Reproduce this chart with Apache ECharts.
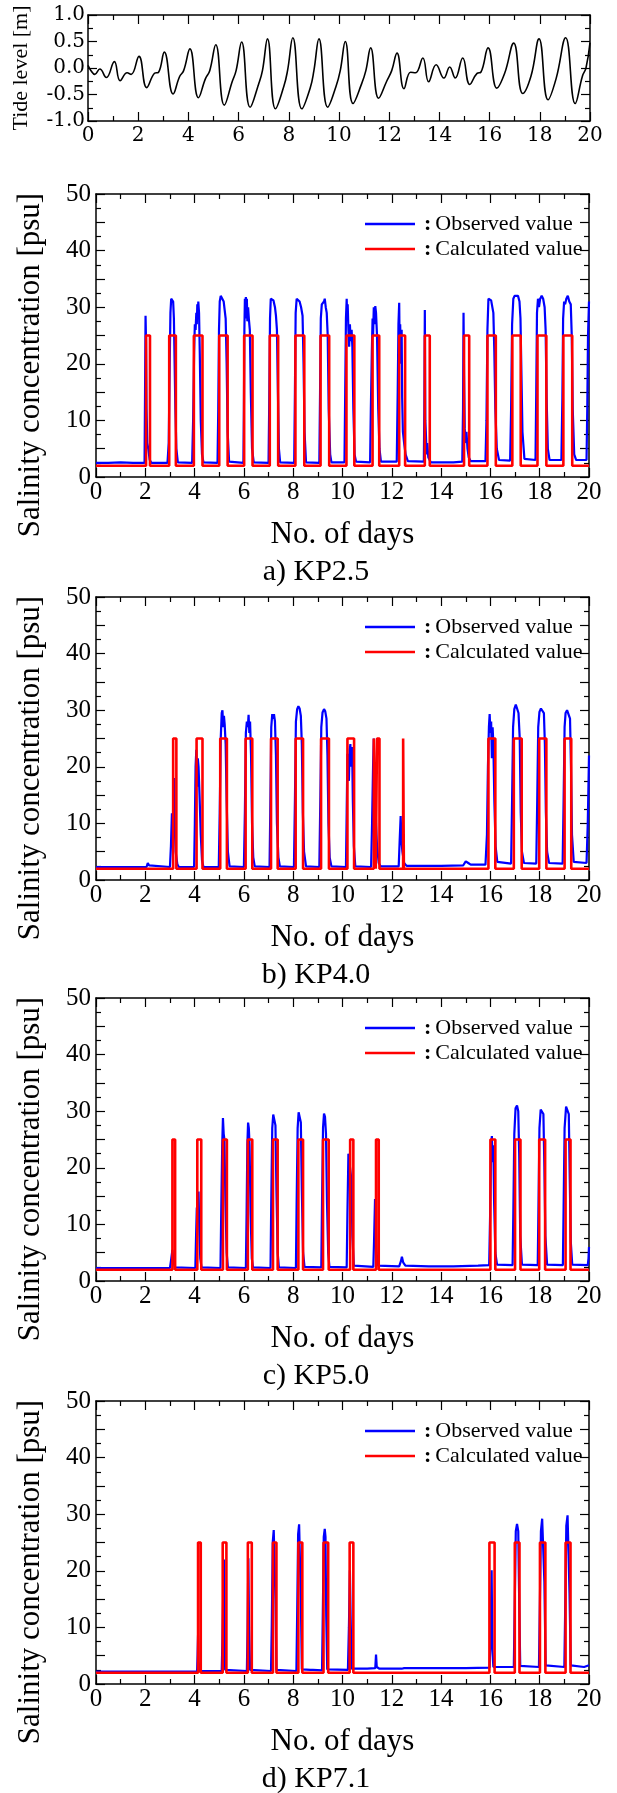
<!DOCTYPE html>
<html><head><meta charset="utf-8">
<script src="https://cdn.jsdelivr.net/npm/echarts@6/dist/echarts.min.js"></script>
<style>html,body{margin:0;padding:0;background:#fff}#c{width:617px;height:1793px}</style>
</head><body><div id="c"></div><script>
// ---------- Tide level (top panel) ----------
const tideDay = [0.00,0.12,0.27,0.47,0.73,1.05,1.28,1.56,1.72,2.03,2.34,2.65,2.81,3.04,3.39,3.65,3.81,4.06,4.40,4.68,4.85,5.09,5.43,5.75,5.90,6.12,6.46,6.80,6.95,7.15,7.47,7.80,7.95,8.16,8.52,8.85,9.00,9.20,9.55,9.88,10.05,10.25,10.56,10.90,11.07,11.26,11.58,11.90,12.10,12.31,12.59,12.85,13.05,13.34,13.57,13.87,14.18,14.41,14.63,14.93,15.21,15.50,15.65,15.94,16.29,16.60,16.96,17.32,17.65,17.97,18.33,18.65,19.03,19.41,19.70,19.84,20.00];
const tideLevel = [0.05,-0.05,-0.12,-0.02,-0.18,0.12,-0.24,-0.09,-0.12,0.22,-0.37,-0.10,-0.08,0.30,-0.49,-0.16,-0.05,0.36,-0.56,-0.20,-0.05,0.44,-0.70,-0.25,-0.05,0.49,-0.74,-0.30,-0.05,0.55,-0.77,-0.35,-0.05,0.57,-0.77,-0.38,-0.05,0.55,-0.74,-0.35,-0.05,0.50,-0.67,-0.30,-0.05,0.38,-0.57,-0.25,-0.05,0.28,-0.39,-0.08,-0.09,0.19,-0.26,0.06,-0.19,0.02,-0.19,0.19,-0.31,-0.10,-0.08,0.38,-0.38,-0.10,0.47,-0.48,-0.15,0.55,-0.60,-0.20,0.57,-0.67,-0.15,0.00,0.48];

// ---------- Calculated value: pulse levels and edges (days) ----------
const CALC_LOW = 2, CALC_HIGH = 25;
const calcAOn  = [2.03,2.97,3.97,5.00,6.01,7.05,8.09,9.11,10.16,11.22,12.30,13.34,14.93,15.88,16.89,17.91,18.96];
const calcAOff = [2.19,3.24,4.32,5.34,6.35,7.39,8.45,9.46,10.48,11.49,12.54,13.54,15.14,16.22,17.23,18.27,19.32];
const calcBOn  = [3.13,4.08,5.04,6.07,7.10,8.10,9.13,10.20,11.27,11.40,12.46,15.92,16.95,17.98,19.01];
const calcBOff = [3.26,4.32,5.31,6.34,7.37,8.40,9.45,10.47,11.35,11.50,12.49,16.20,17.27,18.27,19.28];
const calcCOn  = [3.10,4.11,5.15,6.16,7.18,8.21,9.21,10.31,11.36,16.00,17.00,17.98,19.05];
const calcCOff = [3.21,4.27,5.31,6.34,7.37,8.40,9.44,10.44,11.47,16.20,17.22,18.22,19.25];
const calcDOn  = [4.14,5.14,6.16,7.18,8.21,9.23,10.29,15.96,16.99,18.01,19.05];
const calcDOff = [4.25,5.29,6.32,7.32,8.37,9.42,10.44,16.17,17.18,18.23,19.25];

// ---------- Observed value [day, psu] ----------
const obsA = [[0,2.5],[0.5,2.5],[1.0,2.6],[1.5,2.5],[1.97,2.5],
[1.99,15],[2.01,28.5],[2.03,24],[2.05,12],[2.08,6],[2.12,5],[2.18,3],[2.25,2.5],
[2.9,2.5],[2.95,6],[2.99,20],[3.02,29],[3.05,31.5],[3.09,31.8],[3.13,31],[3.16,28],[3.19,20],[3.22,12],[3.26,5],[3.32,2.6],
[3.9,2.5],[3.94,10],[3.98,22],[4.01,27],[4.04,26],[4.07,29],[4.09,27],[4.11,30.5],[4.13,28],[4.15,31],[4.18,29],[4.21,22],[4.25,10],[4.3,4],[4.36,2.6],
[4.93,2.5],[4.96,12],[4.99,26],[5.02,31],[5.06,32],[5.1,31.8],[5.14,32.2],[5.18,31],[5.22,29.5],[5.26,28],[5.3,20],[5.34,8],[5.4,2.7],
[5.98,2.5],[6.0,12],[6.02,26],[6.04,31.5],[6.06,29],[6.08,31.8],[6.1,28],[6.12,31.5],[6.14,27.5],[6.17,30],[6.2,28],[6.24,26],[6.28,15],[6.33,5],[6.4,2.6],
[7.0,2.5],[7.03,14],[7.06,28],[7.09,31.5],[7.14,31.8],[7.2,31.2],[7.26,30],[7.3,28.5],[7.34,26],[7.38,15],[7.42,5],[7.47,2.6],
[8.04,2.5],[8.07,15],[8.1,29],[8.14,31.5],[8.2,31.8],[8.26,31],[8.32,30],[8.38,28.5],[8.42,20],[8.46,8],[8.52,2.6],
[9.06,2.5],[9.09,15],[9.12,28],[9.16,30.5],[9.2,30.2],[9.25,31],[9.28,31.5],[9.32,30],[9.36,29],[9.4,25],[9.44,12],[9.5,4],[9.55,2.6],
[10.08,2.6],[10.11,15],[10.14,28],[10.17,31.5],[10.19,28],[10.21,30.5],[10.24,26],[10.27,23],[10.3,27],[10.33,24],[10.37,26],[10.4,23],[10.44,12],[10.49,4],[10.55,2.7],
[11.12,2.6],[11.15,12],[11.19,22],[11.22,28],[11.24,25],[11.27,30],[11.3,27],[11.33,30.2],[11.36,29],[11.4,25],[11.45,12],[11.5,5],[11.56,2.7],
[12.2,2.7],[12.24,15],[12.27,27],[12.3,30.8],[12.32,22],[12.34,27],[12.37,20],[12.4,26],[12.42,14],[12.45,8],[12.5,6],[12.56,4],[12.65,2.8],
[13.3,2.7],[13.32,12],[13.34,29.5],[13.36,10],[13.38,8],[13.41,4],[13.44,6],[13.48,3.5],[13.58,2.6],
[14.0,2.6],[14.5,2.6],[14.86,2.7],[14.89,12],[14.91,29],[14.93,18],[14.96,8.5],[14.99,6],[15.03,8],[15.07,5],[15.12,3.5],[15.2,2.8],
[15.8,2.8],[15.84,10],[15.88,26],[15.92,31.5],[15.98,31.8],[16.03,31.2],[16.08,31.5],[16.12,29],[16.16,22],[16.2,12],[16.26,5],[16.35,3],
[16.8,2.9],[16.84,12],[16.88,27],[16.93,31.5],[16.98,32],[17.05,32.3],[17.12,32],[17.18,31],[17.22,28],[17.26,18],[17.3,8],[17.38,3.2],
[17.83,3],[17.86,15],[17.89,29],[17.93,31.5],[17.97,30],[18.02,31.5],[18.08,32],[18.14,31.5],[18.2,30],[18.24,26],[18.28,14],[18.33,5],[18.4,3],
[18.88,3],[18.92,14],[18.95,28],[18.99,31],[19.03,30.5],[19.08,31.5],[19.14,32],[19.2,31],[19.26,30.5],[19.3,25],[19.34,12],[19.4,4],[19.48,3],
[19.9,3],[19.93,12],[19.96,25],[20.0,31]];

const obsB = [[0,2.3],[1.0,2.3],[2.05,2.3],[2.1,3.0],[2.15,2.6],[2.2,2.3],
[3.0,2.3],[3.04,6],[3.08,11.8],[3.11,9],[3.14,14],[3.16,18],[3.19,10],[3.23,5],[3.3,2.8],[3.36,2.3],
[3.98,2.3],[4.01,10],[4.04,20],[4.07,23],[4.1,16.5],[4.13,21.5],[4.16,20],[4.2,15],[4.25,8],[4.3,3.5],[4.36,2.3],
[4.98,2.3],[5.02,12],[5.06,25],[5.1,29.5],[5.13,30],[5.16,27],[5.19,29],[5.22,27.5],[5.26,24],[5.3,14],[5.35,5],[5.42,2.4],
[6.0,2.3],[6.04,12],[6.08,26],[6.12,28],[6.16,27],[6.19,29.2],[6.22,26],[6.25,28],[6.29,22],[6.33,10],[6.38,4],[6.44,2.4],
[7.04,2.3],[7.07,12],[7.11,27],[7.15,29.3],[7.19,28.5],[7.22,29.3],[7.26,28],[7.3,22],[7.34,10],[7.4,4],[7.46,2.4],
[8.03,2.3],[8.07,14],[8.11,28],[8.16,30.2],[8.21,30.7],[8.26,30.3],[8.31,29],[8.35,24],[8.39,12],[8.44,5],[8.52,2.4],
[9.06,2.3],[9.1,14],[9.14,27],[9.19,29.6],[9.25,30.2],[9.3,29.8],[9.35,28.5],[9.39,22],[9.43,10],[9.48,4],[9.55,2.4],
[10.14,2.3],[10.17,12],[10.2,22.3],[10.23,19],[10.26,17.5],[10.29,23],[10.32,24],[10.35,20],[10.39,23.5],[10.42,14],[10.46,6],[10.52,2.4],
[11.16,2.3],[11.2,10],[11.24,20],[11.27,25],[11.3,12],[11.33,17],[11.36,10],[11.4,6],[11.47,3],[11.55,2.4],
[12.28,2.4],[12.32,7],[12.36,11.3],[12.39,7],[12.43,5],[12.5,3],[12.6,2.5],
[13.0,2.5],[14.0,2.5],[14.9,2.6],[15.0,3.3],[15.05,3.6],[15.1,3],[15.2,2.7],[15.8,2.7],
[15.86,8],[15.9,20],[15.94,27],[15.97,29.3],[16.0,26],[16.03,28],[16.06,21.5],[16.09,27],[16.12,24],[16.16,14],[16.21,6],[16.28,3.2],
[16.84,2.9],[16.88,14],[16.92,27],[16.97,30.2],[17.03,31],[17.08,30.8],[17.14,29.5],[17.19,25],[17.23,12],[17.28,5],[17.36,3],
[17.86,2.9],[17.9,14],[17.94,27],[17.99,29.7],[18.05,30.3],[18.11,30.3],[18.17,29.5],[18.21,24],[18.25,12],[18.3,5],[18.38,3],
[18.93,2.9],[18.97,14],[19.01,27],[19.05,29.5],[19.11,30],[19.17,29.8],[19.23,28.5],[19.27,20],[19.31,8],[19.38,3.2],
[19.9,3],[19.95,10],[20.0,22]];

const obsC = [[0,2.3],[1.5,2.3],[3.0,2.3],[3.04,3.5],[3.1,5.5],[3.14,3.5],[3.2,2.4],
[4.03,2.3],[4.06,8],[4.09,13],[4.13,12],[4.16,15.8],[4.19,9],[4.23,4],[4.28,2.4],
[5.05,2.3],[5.08,12],[5.12,24],[5.15,28.8],[5.18,26],[5.21,25],[5.25,14],[5.3,5],[5.35,2.4],
[6.08,2.3],[6.11,12],[6.14,24],[6.17,28],[6.2,27],[6.23,24],[6.27,12],[6.32,4],[6.37,2.4],
[7.08,2.3],[7.11,14],[7.15,27],[7.19,29.4],[7.24,29.6],[7.28,27.5],[7.32,16],[7.37,5],[7.42,2.4],
[8.11,2.3],[8.14,14],[8.18,27],[8.22,29.8],[8.27,30],[8.31,28],[8.35,16],[8.4,5],[8.46,2.5],
[9.14,2.4],[9.17,14],[9.21,27],[9.25,29.6],[9.29,29],[9.33,26],[9.37,14],[9.42,5],[9.47,2.5],
[10.17,2.4],[10.2,12],[10.24,22.5],[10.28,22.8],[10.32,22.8],[10.36,18],[10.4,8],[10.46,2.7],
[11.25,2.5],[11.28,7],[11.32,14.5],[11.35,10],[11.38,5],[11.44,2.7],
[12.3,2.6],[12.37,3.5],[12.41,4.3],[12.46,3.3],[12.55,2.7],
[13.5,2.6],[14.5,2.6],[15.5,2.7],[15.95,2.8],[15.99,12],[16.03,24],[16.06,25.6],[16.09,21],[16.12,24],[16.15,14],[16.2,5],[16.27,2.9],
[16.9,2.8],[16.93,12],[16.97,26],[17.02,30.5],[17.08,31],[17.13,30],[17.17,22],[17.21,8],[17.28,2.9],
[17.92,2.8],[17.95,13],[17.99,27],[18.04,30.3],[18.1,30.6],[18.15,29.5],[18.19,20],[18.23,8],[18.3,2.9],
[18.94,2.8],[18.97,13],[19.01,27],[19.07,30.8],[19.13,31],[19.18,29.5],[19.22,18],[19.26,7],[19.32,2.9],
[19.95,2.8],[19.98,4],[20.0,6]];

const obsD = [[0,2.2],[2,2.2],[4.1,2.2],[4.12,5],[4.14,8.6],[4.16,4],[4.2,2.3],
[5.1,2.3],[5.13,8],[5.16,16],[5.19,22],[5.21,12],[5.24,2.5],
[6.12,2.3],[6.15,10],[6.18,22.2],[6.21,10],[6.25,2.5],
[7.1,2.3],[7.13,10],[7.17,25],[7.21,27.2],[7.25,27.4],[7.28,15],[7.32,2.5],
[8.13,2.3],[8.16,12],[8.2,26.5],[8.24,28.2],[8.28,28],[8.31,15],[8.35,2.6],
[8.7,2.5],[8.75,2.8],[8.8,2.5],
[9.17,2.4],[9.2,12],[9.24,26],[9.28,27.4],[9.31,26],[9.34,12],[9.38,2.6],
[10.22,2.5],[10.26,10],[10.3,20.1],[10.33,12],[10.37,2.7],
[11.0,2.7],[11.33,2.8],[11.36,5.2],[11.39,3],[11.5,2.7],[12.4,2.7],[12.45,3],[12.5,2.8],[13.5,2.8],[15.0,2.8],[15.97,2.9],
[16.0,8],[16.05,20.1],[16.08,6],[16.12,3],
[16.95,3],[16.98,12],[17.03,27],[17.08,28.3],[17.13,27],[17.17,14],[17.21,3.2],
[17.97,3],[18.0,12],[18.05,27],[18.1,29.2],[18.15,29.4],[18.19,18],[18.24,3.3],
[19.0,3],[19.03,12],[19.08,28],[19.13,29.8],[19.17,29.5],[19.21,16],[19.26,3.3],
[19.8,3],[20.0,3.3]];

const captions = ['a) KP2.5','b) KP4.0','c) KP5.0','d) KP7.1'];
const xTickDays = [0,2,4,6,8,10,12,14,16,18,20];

// ---------- build ----------
const SERIF = '"Liberation Serif", "Times New Roman", serif';
const WIDE_SERIF = '"DejaVu Serif", serif';
function stepLine(on, off) {
  const pts = [[0, CALC_LOW]];
  for (let i = 0; i < on.length; i++) {
    pts.push([on[i], CALC_LOW], [on[i], CALC_HIGH], [off[i], CALC_HIGH], [off[i], CALC_LOW]);
  }
  pts.push([20, CALC_LOW]);
  return pts;
}
const panels = [
  {obs: obsA, on: calcAOn, off: calcAOff},
  {obs: obsB, on: calcBOn, off: calcBOff},
  {obs: obsC, on: calcCOn, off: calcCOff},
  {obs: obsD, on: calcDOn, off: calcDOff}
];
const panelTops = [194, 597, 998, 1401];
const grids = [{left: 88, top: 15, width: 502, height: 106}];
panelTops.forEach(t => grids.push({left: 96, top: t, width: 493, height: 283}));

const axisLine = {show: true, onZero: false, lineStyle: {color: '#000', width: 1.5}};
const tickStyle = {color: '#000', width: 1.2};
const xAxis = [], yAxis = [];
grids.forEach((g, gi) => {
  const tide = gi === 0;
  const xc = {gridIndex: gi, type: 'value', min: 0, max: 20, interval: 2,
    axisLine, splitLine: {show: false},
    axisTick: {show: true, inside: true, length: 9, lineStyle: tickStyle},
    minorTick: {show: true, splitNumber: 2, length: 5, lineStyle: tickStyle}};
  xAxis.push(Object.assign({}, xc, {position: 'bottom',
    axisLabel: {show: true, color: '#000', fontFamily: tide ? WIDE_SERIF : SERIF, fontSize: tide ? 20 : 25, margin: tide ? 5 : 3,
      formatter: v => xTickDays.includes(v) ? String(v) : ''},
    name: tide ? '' : 'No. of days', nameLocation: 'middle', nameGap: 42,
    nameTextStyle: {color: '#000', fontFamily: SERIF, fontSize: 31}}));
  xAxis.push(Object.assign({}, xc, {position: 'top', axisLabel: {show: false}}));
  const yc = tide
    ? {gridIndex: gi, type: 'value', min: -1, max: 1, interval: 0.5,
       minorTick: {show: true, splitNumber: 2, length: 5, lineStyle: tickStyle}}
    : {gridIndex: gi, type: 'value', min: 0, max: 50, interval: 5,
       minorTick: {show: true, splitNumber: 2, length: 5, lineStyle: tickStyle}};
  Object.assign(yc, {axisLine, splitLine: {show: false},
    axisTick: {show: true, inside: true, length: 9, lineStyle: tickStyle}});
  yAxis.push(Object.assign({}, yc, {position: 'left',
    axisLabel: {show: true, color: '#000', fontFamily: tide ? WIDE_SERIF : SERIF, fontSize: tide ? 20 : 25, margin: tide ? 3 : 5,
      formatter: tide ? (v => v.toFixed(1)) : (v => (v % 10 === 0 ? String(v) : ''))}}));
  yAxis.push(Object.assign({}, yc, {position: 'right', axisLabel: {show: false}}));
});

const series = [{
  name: 'Tide level', type: 'line', xAxisIndex: 0, yAxisIndex: 0,
  data: tideDay.map((d, i) => [d, tideLevel[i]]), smooth: 0.45, showSymbol: false,
  lineStyle: {color: '#000', width: 1.6}, itemStyle: {color: '#000'}
}];
panels.forEach((p, i) => {
  const gi = i + 1;
  series.push({name: 'Observed value', type: 'line', xAxisIndex: 2 * gi, yAxisIndex: 2 * gi,
    data: p.obs, showSymbol: false, symbol: 'none',
    lineStyle: {color: '#0000ff', width: 2.2}, itemStyle: {color: '#0000ff'}, z: 2});
  series.push({name: 'Calculated value', type: 'line', xAxisIndex: 2 * gi, yAxisIndex: 2 * gi,
    data: stepLine(p.on, p.off), showSymbol: false, symbol: 'none',
    lineStyle: {color: '#ff0000', width: 2.6}, itemStyle: {color: '#ff0000'}, z: 3});
});

const legend = panelTops.map(t => ({
  data: ['Observed value', 'Calculated value'], orient: 'vertical',
  left: 360, top: t + 14, itemWidth: 50, itemHeight: 2.5, itemGap: 3, icon: 'rect',
  selectedMode: false,
  formatter: n => '{c|:}' + n,
  textStyle: {color: '#000', fontFamily: SERIF, fontSize: 22,
    rich: {c: {color: '#000', fontFamily: SERIF, fontSize: 22, fontWeight: 'bold', padding: [0, 4, 0, 4]}}}
}));

const graphic = [{type: 'text', x: 21, y: 68, rotation: Math.PI / 2,
  style: {text: 'Tide level [m]', fill: '#000', font: '22px "Liberation Serif"',
    align: 'center', verticalAlign: 'middle', textAlign: 'center', textVerticalAlign: 'middle'}}];
panelTops.forEach((t, i) => {
  graphic.push({type: 'text', x: 31, y: t + 171, rotation: Math.PI / 2,
    style: {text: 'Salinity concentration [psu]', fill: '#000', font: '31px "Liberation Serif"',
      align: 'center', verticalAlign: 'middle', textAlign: 'center', textVerticalAlign: 'middle'}});
  graphic.push({type: 'text', x: 316, y: t + 378,
    style: {text: captions[i], fill: '#000', font: '30px "Liberation Serif"',
      align: 'center', verticalAlign: 'middle', textAlign: 'center', textVerticalAlign: 'middle'}});
});

const chart = echarts.init(document.getElementById('c'), null, {renderer: 'canvas'});
chart.setOption({animation: false, backgroundColor: '#fff', grid: grids, xAxis, yAxis, series, legend, graphic});
</script></body></html>
